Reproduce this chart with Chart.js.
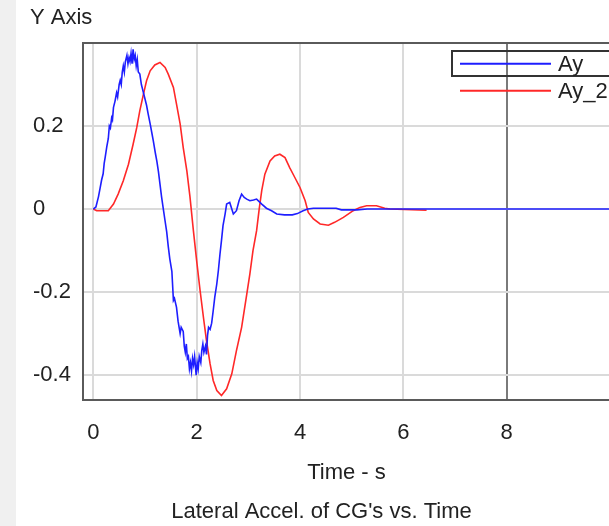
<!DOCTYPE html>
<html>
<head>
<meta charset="utf-8">
<script src="https://cdn.jsdelivr.net/npm/chart.js@4.4.1/dist/chart.umd.min.js"></script>
<style>
  html, body { margin: 0; padding: 0; background: #fff; }
  #wrap { position: relative; width: 609px; height: 526px; overflow: hidden; }
  #strip { position: absolute; left: 0; top: 0; width: 16px; height: 526px; background: #f0f0f0; }
  #myChart { position: absolute; left: 0; top: 0; }
</style>
</head>
<body>
<div id="wrap">
  <div id="strip"></div>
  <canvas id="myChart" width="620" height="526"></canvas>
</div>
<script>
// Ay (blue) - time / value
const tAy = [0, 0.05, 0.10, 0.13, 0.16, 0.19, 0.21, 0.23, 0.26, 0.29, 0.31, 0.33, 0.355, 0.37, 0.39, 0.42, 0.45, 0.47, 0.50, 0.52,
  0.54, 0.56, 0.58, 0.60, 0.62, 0.65, 0.67, 0.69, 0.71, 0.73, 0.75, 0.77, 0.79, 0.81, 0.83, 0.85, 0.87, 0.90, 0.93, 0.95,
  0.97, 1.00, 1.03, 1.06, 1.10, 1.13, 1.16, 1.20, 1.23, 1.26, 1.29, 1.32, 1.35, 1.39, 1.42, 1.45, 1.48, 1.52, 1.55, 1.57,
  1.61, 1.64, 1.68, 1.70, 1.74, 1.76, 1.78, 1.80, 1.82, 1.84, 1.86, 1.88, 1.90, 1.92, 1.94, 1.96, 1.99, 2.01, 2.03, 2.05,
  2.08, 2.10, 2.12, 2.14, 2.17, 2.19, 2.21, 2.23, 2.26, 2.29, 2.32, 2.35, 2.39, 2.42, 2.45, 2.48, 2.51, 2.55, 2.58, 2.64,
  2.71, 2.77, 2.82, 2.87, 2.92, 2.97, 3.03, 3.10, 3.16, 3.21, 3.26, 3.35, 3.45, 3.55, 3.70, 3.85, 3.95, 4.06, 4.15, 4.26,
  4.50, 4.70, 4.80, 5.10, 5.30, 10];
const ay = [0, 0.005, 0.03, 0.05, 0.07, 0.085, 0.11, 0.125, 0.15, 0.17, 0.20, 0.195, 0.22, 0.215, 0.245, 0.26, 0.28, 0.27, 0.30, 0.31,
  0.30, 0.33, 0.345, 0.33, 0.355, 0.37, 0.35, 0.365, 0.355, 0.375, 0.35, 0.385, 0.36, 0.37, 0.345, 0.36, 0.33, 0.325, 0.30, 0.29,
  0.28, 0.265, 0.25, 0.23, 0.205, 0.185, 0.165, 0.135, 0.115, 0.09, 0.06, 0.03, 0.004, -0.03, -0.055, -0.09, -0.12, -0.15, -0.22, -0.215,
  -0.237, -0.27, -0.30, -0.285, -0.295, -0.33, -0.345, -0.325, -0.36, -0.355, -0.385, -0.37, -0.39, -0.36, -0.375, -0.355, -0.40, -0.37, -0.385, -0.355,
  -0.37, -0.34, -0.325, -0.345, -0.33, -0.35, -0.305, -0.285, -0.29, -0.275, -0.245, -0.213, -0.18, -0.148, -0.11, -0.076, -0.04, -0.012, 0.012, 0.016,
  -0.012, -0.004, 0.02, 0.036, 0.028, 0.024, 0.02, 0.022, 0.024, 0.018, 0.012, 0.002, -0.004, -0.012, -0.014, -0.014, -0.011, -0.004, 0, 0.002,
  0.002, 0.002, -0.002, -0.002, 0, 0];

// Ay_2 (red)
const tAy2 = [0, 0.065, 0.29, 0.39, 0.48, 0.58, 0.68, 0.77, 0.84, 0.90, 0.97, 1.03, 1.10, 1.19, 1.29, 1.39, 1.45, 1.55, 1.61, 1.68,
  1.74, 1.81, 1.87, 1.935, 2.00, 2.065, 2.13, 2.19, 2.26, 2.32, 2.39, 2.48, 2.58, 2.68, 2.77, 2.87, 2.97, 3.03, 3.09, 3.16,
  3.21, 3.26, 3.32, 3.42, 3.51, 3.61, 3.71, 3.80, 3.90, 4.00, 4.10, 4.16, 4.26, 4.39, 4.55, 4.67, 4.84, 5.03, 5.16, 5.29,
  5.48, 5.64, 5.74, 6.45];
const ay2 = [0, -0.004, -0.004, 0.012, 0.036, 0.068, 0.108, 0.156, 0.196, 0.237, 0.277, 0.309, 0.333, 0.347, 0.353, 0.341, 0.325, 0.293, 0.253, 0.205,
  0.148, 0.092, 0.03, -0.05, -0.125, -0.195, -0.26, -0.317, -0.373, -0.413, -0.437, -0.449, -0.433, -0.397, -0.341, -0.285, -0.205, -0.156, -0.10, -0.052,
  0.0, 0.045, 0.084, 0.116, 0.128, 0.132, 0.124, 0.10, 0.076, 0.052, 0.02, -0.008, -0.024, -0.036, -0.039, -0.032, -0.02, -0.004, 0.004, 0.008,
  0.008, 0.002, 0, -0.003];

const xTicks = [0, 2, 4, 6, 8];
const yTicks = [-0.4, -0.2, 0, 0.2];

const FONT = { family: "'Liberation Sans', Arial, sans-serif", size: 22, weight: 'normal' };
const TEXT = '#222';

function toPoints(xs, ys) {
  return xs.map((x, i) => ({ x: x, y: ys[i] }));
}

// frame round the plot area + the "Y Axis" label
const framePlugin = {
  id: 'frame',
  beforeDatasetsDraw(chart) {
    const { ctx, chartArea: a } = chart;
    ctx.save();
    ctx.strokeStyle = '#5a5a5a';
    ctx.lineWidth = 2;
    ctx.strokeRect(a.left, a.top, a.right - a.left, a.bottom - a.top);
    ctx.restore();
  },
  afterDraw(chart) {
    const ctx = chart.ctx;
    ctx.save();
    ctx.font = FONT.size + 'px ' + FONT.family;
    ctx.fillStyle = TEXT;
    ctx.textBaseline = 'alphabetic';
    ctx.fillText('Y Axis', 30, 24);
    ctx.restore();
  }
};

// legend drawn inside the plot, top right
const legendPlugin = {
  id: 'boxLegend',
  afterDatasetsDraw(chart) {
    const ctx = chart.ctx;
    ctx.save();
    ctx.strokeStyle = '#333';
    ctx.lineWidth = 2;
    ctx.strokeRect(452, 51, 200, 25);
    chart.data.datasets.forEach((ds, i) => {
      const y = 63.7 + i * 27;
      ctx.strokeStyle = ds.borderColor;
      ctx.lineWidth = 2;
      ctx.beginPath();
      ctx.moveTo(460, y);
      ctx.lineTo(551, y);
      ctx.stroke();
      ctx.font = FONT.size + 'px ' + FONT.family;
      ctx.fillStyle = TEXT;
      ctx.textBaseline = 'middle';
      ctx.fillText(ds.label, 558, y + 1);
    });
    ctx.restore();
  }
};

const ctx = document.getElementById('myChart').getContext('2d');
const myChart = new Chart(ctx, {
  type: 'line',
  data: {
    datasets: [{
      label: 'Ay',
      data: toPoints(tAy, ay),
      borderColor: 'rgb(30, 30, 255)',
      borderWidth: 1.6,
      pointRadius: 0,
      tension: 0
    }, {
      label: 'Ay_2',
      data: toPoints(tAy2, ay2),
      borderColor: 'rgb(255, 40, 40)',
      borderWidth: 1.6,
      pointRadius: 0,
      tension: 0
    }]
  },
  options: {
    responsive: false,
    animation: false,
    devicePixelRatio: 1,
    layout: { padding: { left: 33, top: 43, right: 10, bottom: 0 } },
    plugins: {
      legend: { display: false },
      tooltip: { enabled: false },
      title: {
        display: true,
        position: 'bottom',
        text: "Lateral Accel. of CG's vs. Time",
        color: TEXT,
        font: FONT,
        padding: { top: 6, bottom: 0.8 }
      }
    },
    scales: {
      x: {
        type: 'linear',
        min: -0.2,
        max: 10,
        afterBuildTicks: s => { s.ticks = xTicks.map(v => ({ value: v })); },
        afterFit: s => { s.height = 92.8; },
        ticks: { padding: 19.8, color: TEXT, font: FONT, maxRotation: 0 },
        grid: {
          drawTicks: false,
          lineWidth: 2,
          color: c => (c.tick && c.tick.value === 8) ? '#7a7a7a' : '#dadada'
        },
        border: { display: true, color: '#5a5a5a', width: 2 },
        title: { display: true, text: 'Time - s', color: TEXT, font: FONT, padding: { top: 0, bottom: 6.6 } }
      },
      y: {
        type: 'linear',
        min: -0.46,
        max: 0.4,
        afterBuildTicks: s => { s.ticks = yTicks.map(v => ({ value: v })); },
        afterFit: s => { s.width = 50; },
        ticks: { crossAlign: 'far', color: TEXT, font: FONT },
        grid: { drawTicks: false, lineWidth: 2, color: '#dadada' },
        border: { display: true, color: '#5a5a5a', width: 2 }
      }
    }
  },
  plugins: [framePlugin, legendPlugin]
});
</script>
</body>
</html>
